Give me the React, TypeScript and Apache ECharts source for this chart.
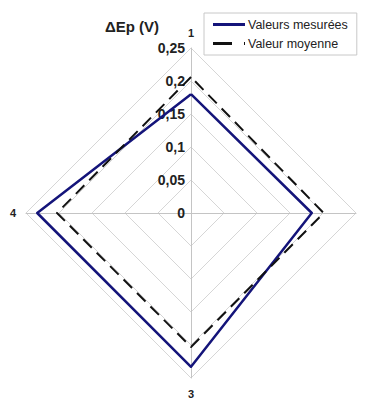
import React, { useEffect, useRef } from "react";
import * as echarts from "echarts";

const axisNames = ["1", "2", "3", "4"];
const measuredValues = [0.18, 0.183, 0.233, 0.233];
const meanValues = [0.206, 0.201, 0.203, 0.203];
const tickMax = 0.25;
const tickCount = 5;
const seriesNames = ["Valeurs mesurées", "Valeur moyenne"];
const titleText = "ΔEp (V)";

// display order so that 1 top, 2 right, 3 bottom, 4 left (radar runs counter-clockwise)
const order = [0, 3, 2, 1];

export default function App() {
  const ref = useRef<HTMLDivElement>(null);
  useEffect(() => {
    if (!ref.current) return;
    const chart = echarts.init(ref.current, null, { renderer: "svg" });
    const font = "'Liberation Sans', Arial, sans-serif";
    const indicator = order.map((i, k) => ({
      name: axisNames[i],
      max: tickMax,
      min: 0,
      axisLabel: k === 0 ? { show: true } : { show: false },
    }));
    chart.setOption({
      animation: false,
      backgroundColor: "#ffffff",
      textStyle: { fontFamily: font },
      title: {
        text: titleText,
        left: 100,
        top: 14,
        textStyle: { fontSize: 15, fontWeight: "bold", color: "#222", fontFamily: font },
      },
      legend: {
        orient: "vertical",
        left: 204,
        top: 13,
        padding: [5, 9, 5, 9],
        itemGap: 6,
        itemWidth: 32,
        itemHeight: 3,
        borderColor: "#c8c8c8",
        borderWidth: 1,
        textStyle: { fontSize: 12.5, color: "#222", fontFamily: font, padding: [0, 0, 0, -2] },
        data: [
          { name: seriesNames[0], icon: "path://M0 0H32V3H0Z", itemStyle: { color: "#14147a" } },
          { name: seriesNames[1], icon: "path://M0 0H19V3H0Z M31 0H32V3H31Z", itemStyle: { color: "#111" } },
        ],
      },
      radar: {
        center: [191, 213],
        radius: 165,
        shape: "polygon",
        splitNumber: tickCount,
        indicator,
        axisName: { color: "#222", fontSize: 11, fontWeight: "bold", fontFamily: font },
        nameGap: 10,
        splitArea: { show: false },
        splitLine: { lineStyle: { color: "#d6d6d6", width: 1 } },
        axisLine: { lineStyle: { color: "#c4c4c4", width: 1 } },
        axisTick: { show: false },
        axisLabel: {
          show: false,
          color: "#222",
          fontSize: 14,
          fontWeight: "bold",
          fontFamily: font,
          margin: 6,
          formatter: (v: number) => String(Number(v.toFixed(2))).replace(".", ","),
        },
      },
      series: [
        {
          type: "radar",
          symbol: "none",
          data: [
            {
              name: seriesNames[0],
              value: order.map((i) => measuredValues[i]),
              lineStyle: { color: "#14147a", width: 2.5 },
              itemStyle: { color: "#14147a" },
            },
            {
              name: seriesNames[1],
              value: order.map((i) => meanValues[i]),
              lineStyle: { color: "#111", width: 2, type: [12, 7] },
              itemStyle: { color: "#111" },
            },
          ],
        },
      ],
    });
    return () => chart.dispose();
  }, []);
  return (
    <div
      ref={ref}
      style={{ position: "fixed", left: 0, top: 0, width: 366, height: 401 }}
    />
  );
}
